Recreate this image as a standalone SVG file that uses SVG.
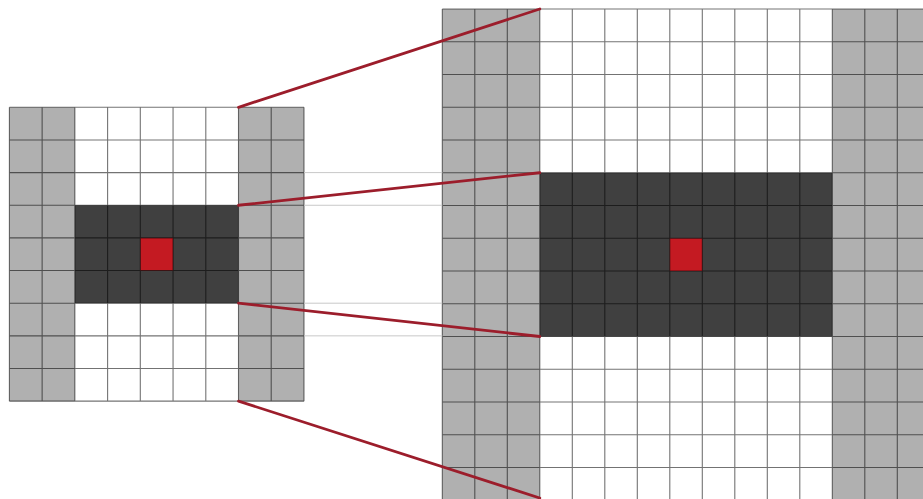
<svg xmlns="http://www.w3.org/2000/svg" width="923" height="499" viewBox="0 0 923 499">
<style>
.bg{fill:#ffffff}
.side{fill:#b0b0b0}
.core{fill:#404040}
.ctr{fill:#c41a22}
.grid{fill:none;stroke:#000000;stroke-opacity:0.55;stroke-width:1.1}
.guide{fill:none;stroke:#c8c8c8;stroke-width:1}
.zoom{fill:none;stroke:#9c1d2b;stroke-width:2.8;stroke-linecap:round}
</style>
<rect width="923" height="499" fill="#ffffff"/>
<g id="small-grid">
<rect class="bg" x="9.4" y="107.3" width="294.6" height="293.9"/>
<rect class="side" x="9.4" y="107.3" width="65.5" height="293.9"/>
<rect class="side" x="238.5" y="107.3" width="65.5" height="293.9"/>
<rect class="core" x="74.9" y="205.25" width="163.6" height="97.95"/>
<rect class="ctr" x="140.3" y="237.9" width="32.75" height="32.65"/>
<path class="grid" d="M9.4 107.3V401.15M42.13 107.3V401.15M74.86 107.3V401.15M107.6 107.3V401.15M140.3 107.3V401.15M173.05 107.3V401.15M205.8 107.3V401.15M238.5 107.3V401.15M271.2 107.3V401.15M304 107.3V401.15M9.4 107.3H304M9.4 139.95H304M9.4 172.6H304M9.4 205.25H304M9.4 237.9H304M9.4 270.55H304M9.4 303.2H304M9.4 335.85H304M9.4 368.5H304M9.4 401.15H304"/>
</g>
<g id="large-grid">
<rect class="bg" x="442.3" y="9" width="487.5" height="491.25"/>
<rect class="side" x="442.3" y="9" width="97.5" height="491.25"/>
<rect class="side" x="832.3" y="9" width="97.5" height="491.25"/>
<rect class="core" x="539.8" y="172.75" width="292.5" height="163.75"/>
<rect class="ctr" x="669.8" y="238.25" width="32.5" height="32.75"/>
<path class="grid" d="M442.3 9V500M474.8 9V500M507.3 9V500M539.8 9V500M572.3 9V500M604.8 9V500M637.3 9V500M669.8 9V500M702.3 9V500M734.8 9V500M767.3 9V500M799.8 9V500M832.3 9V500M864.8 9V500M897.3 9V500M442.3 9H930M442.3 41.75H930M442.3 74.5H930M442.3 107.25H930M442.3 140H930M442.3 172.75H930M442.3 205.5H930M442.3 238.25H930M442.3 271H930M442.3 303.75H930M442.3 336.5H930M442.3 369.25H930M442.3 402H930M442.3 434.75H930M442.3 467.5H930"/>
</g>
<g id="connectors">
<path class="guide" d="M304 172.6H442.3M304 205.25H442.3M304 303.2H442.3M304 335.85H442.3"/>
<path class="zoom" d="M238.5 107.3L539.8 9M238.5 205.25L539.8 172.75M238.5 303.2L539.8 336.5M238.5 401.15L539.8 498"/>
</g>
</svg>
